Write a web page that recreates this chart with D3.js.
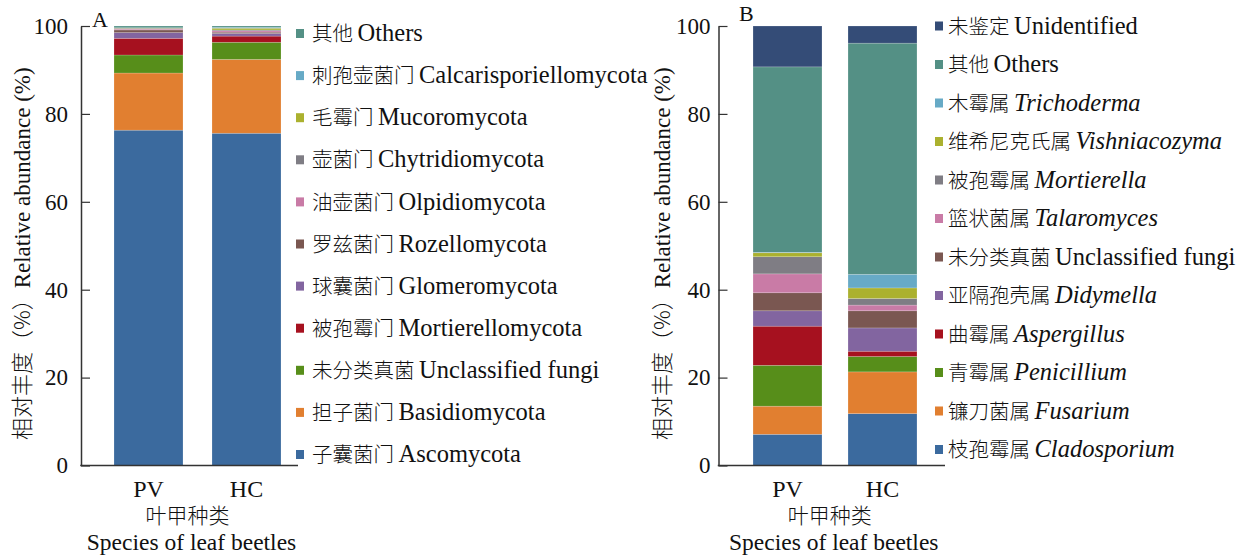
<!DOCTYPE html>
<html>
<head>
<meta charset="utf-8">
<script src="https://cdn.jsdelivr.net/npm/d3@7"></script>
<style>
  body { margin: 0; background: #fff; }
  svg text { font-family: "Liberation Serif", "Noto Sans CJK SC", serif; fill: #111; }
</style>
</head>
<body>
<svg id="chart" width="1260" height="557"></svg>
<script>
// groups on the x axis
const groups = ['PV', 'HC'];

// panel A: phylum level, bottom of stack first
const phylaZh = ['子囊菌门', '担子菌门', '未分类真菌', '被孢霉门', '球囊菌门', '罗兹菌门',
  '油壶菌门', '壶菌门', '毛霉门', '刺孢壶菌门', '其他'];
const phylaEn = ['Ascomycota', 'Basidiomycota', 'Unclassified fungi', 'Mortierellomycota',
  'Glomeromycota', 'Rozellomycota', 'Olpidiomycota', 'Chytridiomycota', 'Mucoromycota',
  'Calcarisporiellomycota', 'Others'];
const phylaPV = [76.3, 13.0, 4.1, 3.8, 1.3, 0.6, 0.2, 0.2, 0.05, 0.05, 0.4];
const phylaHC = [75.6, 16.8, 3.9, 1.4, 0.6, 0.3, 0.3, 0.2, 0.4, 0.2, 0.3];
const phylaColors = ['#3b6a9e', '#e17f30', '#578e1a', '#a6111f', '#8265a0', '#7a5751',
  '#c97ba6', '#7f7d84', '#abb12f', '#67aac6', '#549085'];

// panel B: genus level, bottom of stack first
const generaZh = ['枝孢霉属', '镰刀菌属', '青霉属', '曲霉属', '亚隔孢壳属', '未分类真菌',
  '篮状菌属', '被孢霉属', '维希尼克氏属', '木霉属', '其他', '未鉴定'];
const generaEn = ['Cladosporium', 'Fusarium', 'Penicillium', 'Aspergillus', 'Didymella',
  'Unclassified fungi', 'Talaromyces', 'Mortierella', 'Vishniacozyma', 'Trichoderma',
  'Others', 'Unidentified'];
const generaRank = ['genus', 'genus', 'genus', 'genus', 'genus', 'other',
  'genus', 'genus', 'genus', 'genus', 'other', 'other'];
const generaPV = [7.1, 6.4, 9.3, 8.9, 3.5, 4.1, 4.3, 3.9, 0.9, 0.1, 42.2, 9.3];
const generaHC = [11.8, 9.5, 3.5, 1.2, 5.3, 3.9, 1.3, 1.5, 2.4, 3.1, 52.6, 3.9];
const generaColors = ['#3b6a9e', '#e17f30', '#578e1a', '#a6111f', '#8265a0', '#7a5751',
  '#c97ba6', '#7f7d84', '#abb12f', '#67aac6', '#549085', '#344c77'];

const yTicks = [0, 20, 40, 60, 80, 100];

const svg = d3.select('#chart');
const SERIF = '"Liberation Serif", "Times New Roman", serif';
const CJK = '"Noto Sans CJK SC", sans-serif';

function drawPanel(opts) {
  const g = svg.append('g');
  const keys = opts.zh.map((d, i) => 'k' + i);
  const rows = groups.map((grp, gi) => {
    const r = { group: grp };
    keys.forEach((k, i) => { r[k] = opts.values[gi][i]; });
    return r;
  });
  const series = d3.stack().keys(keys)(rows);

  const x = d3.scaleBand()
    .domain(groups)
    .range(opts.band)
    .paddingInner(opts.padIn)
    .paddingOuter(opts.padIn / 2);

  const y = d3.scaleLinear()
    .domain([0, 100])
    .range([465.5, 26]);

  g.selectAll('g.layer')
    .data(series)
    .join('g')
    .attr('class', 'layer')
    .attr('fill', (d, i) => opts.colors[i])
    .selectAll('rect')
    .data(d => d)
    .join('rect')
    .attr('x', d => x(d.data.group))
    .attr('width', x.bandwidth())
    .attr('y', d => y(d[1]))
    .attr('height', d => y(d[0]) - y(d[1]))
    .attr('stroke', 'rgba(255,255,255,0.3)')
    .attr('stroke-width', 0.6);

  // y axis, ticks pointing inward
  const yAxis = g.append('g')
    .attr('transform', `translate(${opts.axisX},0)`)
    .call(d3.axisLeft(y).tickValues(yTicks).tickSizeInner(-9).tickSizeOuter(0).tickPadding(opts.tickPad));
  yAxis.select('.domain').attr('stroke', '#333').attr('stroke-width', 1.5);
  yAxis.selectAll('.tick line').attr('stroke', '#333').attr('stroke-width', 1.2);
  yAxis.selectAll('.tick text')
    .attr('font-size', 23)
    .attr('font-family', SERIF)
    .attr('fill', '#111');

  // x axis line
  g.append('line')
    .attr('x1', opts.axisX - 0.75).attr('x2', opts.axisEnd)
    .attr('y1', y(0)).attr('y2', y(0))
    .attr('stroke', '#333').attr('stroke-width', 1.5);

  // group labels
  g.selectAll('text.grp')
    .data(groups)
    .join('text')
    .attr('class', 'grp')
    .attr('x', d => x(d) + x.bandwidth() / 2)
    .attr('y', 497)
    .attr('text-anchor', 'middle')
    .attr('font-family', SERIF)
    .attr('font-size', 24)
    .text(d => d);

  const midX = (opts.axisX + opts.axisEnd) / 2 - 2;
  g.append('text')
    .attr('x', midX).attr('y', 523)
    .attr('text-anchor', 'middle')
    .attr('font-size', 21)
    .attr('font-weight', 300)
    .attr('font-family', CJK)
    .text('叶甲种类');
  g.append('text')
    .attr('x', midX + 4).attr('y', 550)
    .attr('text-anchor', 'middle')
    .attr('font-family', SERIF)
    .attr('font-size', 23.5)
    .text('Species of leaf beetles');

  // y axis title
  const yt = g.append('text')
    .attr('transform', `translate(${opts.titleX},${(y(0) + y(100)) / 2 + 8}) rotate(-90)`)
    .attr('text-anchor', 'middle')
    .attr('font-size', 22);
  yt.append('tspan').attr('font-family', CJK).attr('font-weight', 300).text('相对丰度（%）');
  yt.append('tspan').attr('font-family', SERIF).attr('font-size', 23).text('Relative abundance (%)');

  // panel letter
  g.append('text')
    .attr('x', opts.letterX).attr('y', opts.letterY)
    .attr('font-family', SERIF)
    .attr('font-size', 22)
    .text(opts.letter);

  // legend, top layer first
  const order = d3.range(opts.zh.length).reverse();
  const leg = g.selectAll('g.leg')
    .data(order)
    .join('g')
    .attr('class', 'leg')
    .attr('transform', (d, i) => `translate(${opts.legX},${opts.legY + i * opts.legStep})`);
  leg.append('rect')
    .attr('x', 0).attr('y', -5)
    .attr('width', 8).attr('height', 9)
    .attr('fill', d => opts.colors[d]);
  const lt = leg.append('text')
    .attr('x', opts.legTextDx)
    .attr('y', 0)
    .attr('dy', '0.35em')
    .attr('font-size', 20.5);
  lt.append('tspan')
    .attr('font-family', CJK)
    .attr('font-weight', 300)
    .text(d => opts.zh[d] + ' ');
  lt.append('tspan')
    .attr('font-family', SERIF)
    .attr('font-size', 24.5)
    .attr('font-style', d => opts.rank && opts.rank[d] === 'genus' ? 'italic' : 'normal')
    .text(d => opts.en[d]);
}

drawPanel({
  zh: phylaZh, en: phylaEn, values: [phylaPV, phylaHC], colors: phylaColors,
  band: [99.5, 295.5], padIn: 0.296, axisX: 81, axisEnd: 298, tickPad: 13,
  titleX: 30, letter: 'A', letterX: 92, letterY: 27,
  legX: 296, legY: 34, legStep: 42.1, legTextDx: 16
});

drawPanel({
  zh: generaZh, en: generaEn, rank: generaRank, values: [generaPV, generaHC], colors: generaColors,
  band: [740, 930], padIn: 0.274, axisX: 718.5, axisEnd: 945, tickPad: 8,
  titleX: 670, letter: 'B', letterX: 739, letterY: 21,
  legX: 935, legY: 26.5, legStep: 38.5, legTextDx: 13
});
</script>
</body>
</html>
